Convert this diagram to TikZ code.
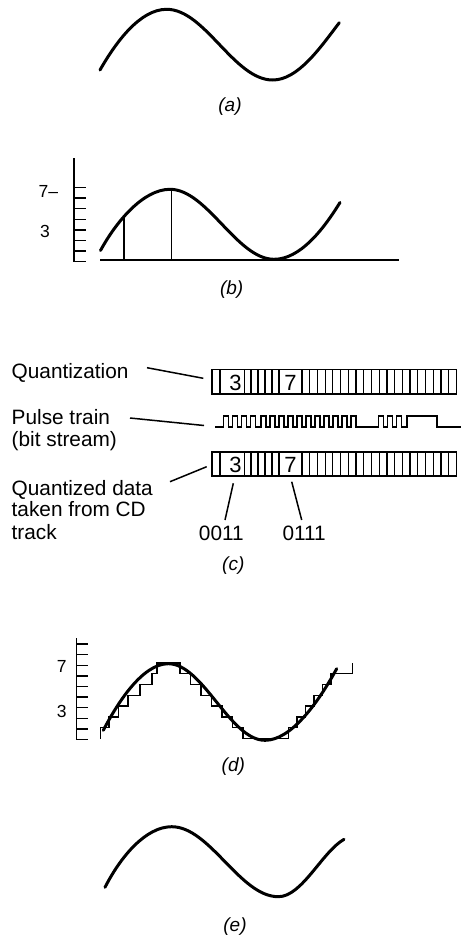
\documentclass[tikz,border=0pt]{standalone}
\usepackage{fontspec}
\setmainfont{Liberation Sans}
\begin{document}
\begin{tikzpicture}[x=1pt,y=-1pt,
  wavecurve/.style={line width=3pt,line cap=round,line join=round},
  axisline/.style={line width=1.5pt},
  stairline/.style={line width=1.4pt,line join=miter},
  cellline/.style={line width=1.2pt},
  boxline/.style={line width=1.9pt},
  pulseline/.style={line width=1.6pt},
  leader/.style={line width=1.5pt},
  txt/.style={inner sep=0pt,font=\fontsize{20.8}{24}\selectfont},
  axnum/.style={inner sep=0pt,font=\fontsize{17.5}{20}\selectfont},
  cellnum/.style={inner sep=0pt,font=\fontsize{22}{26}\selectfont},
  lbl/.style={inner sep=0pt,font=\fontsize{19}{22}\selectfont\itshape}]

\fill[white] (0,0) rectangle (461,940);
\useasboundingbox (0,0) rectangle (461,940);

% ---------- (a) ----------
\draw[wavecurve] (100,70) .. controls (116,42) and (140,9.3) .. (166.7,9.3)
  .. controls (205,9.3) and (234,80) .. (272.7,80)
  .. controls (298,80) and (320,48) .. (339.3,22.7);
\node[lbl] (la) at (230,106.7) {(a)};

% ---------- (b) ----------
\draw[axisline] (74,158) -- (74,262);
\foreach \k in {0,...,7} \draw[axisline] (74,{261.7-10.6*\k}) -- (86,{261.7-10.6*\k});
\node[axnum,anchor=base west] (b7) at (38.5,197.8) {7–};
\node[axnum,anchor=base] (b3) at (45,237.8) {3};
\draw[line width=1.8pt] (100,260) -- (399,260);
\draw[wavecurve] (100.5,250.5) .. controls (116,222) and (143,189.3) .. (170,189.3)
  .. controls (207,189.3) and (237,259.3) .. (274,259.3)
  .. controls (300,259.3) and (323,230) .. (340,202.5);
\draw[axisline] (124,216.6) -- (124,260);
\draw[axisline] (171.7,189.3) -- (171.7,260);
\node[lbl] (lb) at (231.7,290) {(b)};

% ---------- (c) ----------
\node[txt,anchor=base west] (quant) at (11.5,378) {Quantization};
\node[txt,anchor=base west] (pulse) at (11.5,424) {Pulse train};
\node[txt,anchor=base west] (bits) at (11.5,446.5) {(bit stream)};
\node[txt,anchor=base west] (qd1) at (11.5,495) {Quantized data};
\node[txt,anchor=base west] (qd2) at (11.5,516.5) {taken from CD};
\node[txt,anchor=base west] (qd3) at (11.5,539) {track};

% boxes
\foreach \yt in {369.5,451.7} {
  \draw[boxline] (212.3,\yt) rectangle (456.5,{\yt+24.5});
  \foreach \x in {220,244.3,251,258,265,272,279,302}
    \draw[cellline] (\x,\yt) -- (\x,{\yt+24.5});
  \foreach \i in {1,...,19}
    \draw[cellline] ({302+7.72*\i},\yt) -- ({302+7.72*\i},{\yt+24.5});
}
\node[cellnum,anchor=base] (q3) at (235.5,390.5) {3};
\node[cellnum,anchor=base] (q7) at (290.5,390.5) {7};
\node[cellnum,anchor=base] (t3) at (235.5,472.7) {3};
\node[cellnum,anchor=base] (t7) at (290.5,472.7) {7};

% pulse train
\draw[pulseline,line join=miter] (215,426.7) -- (223.3,426.7)
  \foreach \i in {1,...,4} { -- ++(0,-11) -- ++(5,0) -- ++(0,11) -- ++(4,0) }
  -- ++(1.7,0)
  \foreach \i in {1,...,11} { -- ++(0,-11) -- ++(5,0) -- ++(0,11) -- ++(4,0) }
  -- (378.3,426.7)
  \foreach \i in {1,...,3} { -- ++(0,-11) -- ++(5,0) -- ++(0,11) -- ++(4,0) }
  -- ++(1.7,0) -- ++(0,-11) -- (436.7,415.7) -- (436.7,426.7) -- (461,426.7);

% leaders
\coordinate (qA) at (147,367.7);  \coordinate (qB) at (203.3,378.3);
\coordinate (pA) at (130,418);    \coordinate (pB) at (204,425.5);
\coordinate (dA) at (170,481.7);  \coordinate (dB) at (206.7,466.7);
\coordinate (zA) at (233.3,483.3); \coordinate (zB) at (225,520);
\coordinate (oA) at (291.7,481.7); \coordinate (oB) at (301.7,520);
\draw[leader] (qA) -- (qB);
\draw[leader] (pA) -- (pB);
\draw[leader] (dA) -- (dB);
\draw[leader] (zA) -- (zB);
\draw[leader] (oA) -- (oB);
\node[txt,anchor=base] (b0011) at (221.3,540) {0011};
\node[txt,anchor=base] (b0111) at (304.2,540) {0111};
\node[lbl] (lc) at (233.3,566) {(c)};

% ---------- (d) ----------
\draw[axisline] (76.3,638) -- (76.3,740.3);
\foreach \k in {0,...,9} \draw[axisline] (76.3,{739.5-10.6*\k}) -- (87.5,{739.5-10.6*\k});
\node[axnum,anchor=base] (d7) at (61.7,672) {7};
\node[axnum,anchor=base] (d3) at (61.7,717) {3};
\draw[stairline] (100.7,738.5) -- (100.7,727.7) -- (109,727.7) -- (109,716.9)
  -- (118.5,716.9) -- (118.5,706.1) -- (128,706.1) -- (128,695.3)
  -- (140,695.3) -- (140,684.5) -- (152,684.5) -- (152,673.7)
  -- (157,673.7) -- (157,662.9) -- (180,662.9) -- (180,673.7)
  -- (190.5,673.7) -- (190.5,684.5) -- (201,684.5) -- (201,695.3)
  -- (211.5,695.3) -- (211.5,706.1) -- (222,706.1) -- (222,716.9)
  -- (232.5,716.9) -- (232.5,727.7) -- (243,727.7) -- (243,738.5)
  -- (288.3,738.5) -- (288.3,727.7) -- (297,727.7) -- (297,716.9)
  -- (305.5,716.9) -- (305.5,706.1) -- (314,706.1) -- (314,695.3)
  -- (322.5,695.3) -- (322.5,684.5) -- (331,684.5) -- (331,673.7)
  -- (352.7,673.7) -- (352.7,662.9);
\draw[wavecurve] (103.3,730.3) .. controls (117,704) and (142,663.7) .. (168.3,663.7)
  .. controls (203,663.7) and (230,740.3) .. (265,740.3)
  .. controls (291,740.3) and (318,703) .. (336.7,668.7);
\node[lbl] (ld) at (233.3,766.7) {(d)};

% ---------- (e) ----------
\draw[wavecurve] (105,887.3) .. controls (121,856) and (146,826.7) .. (171.7,826.7)
  .. controls (210,826.7) and (240,896.7) .. (278.3,896.7)
  .. controls (302,896.7) and (322,852) .. (344,839.3);
\node[lbl] (le) at (235,926.7) {(e)};
\end{tikzpicture}
\end{document}
